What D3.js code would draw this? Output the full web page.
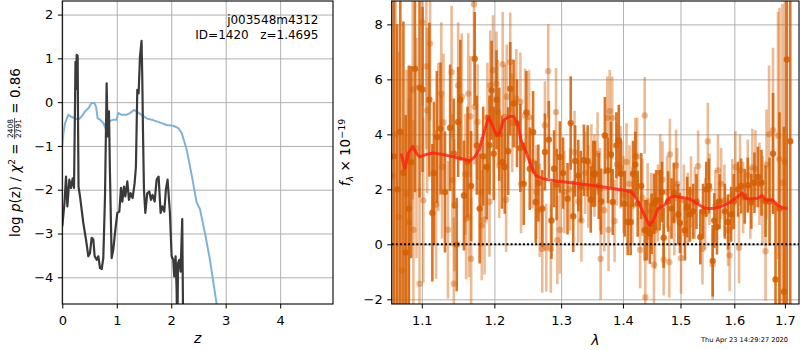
<!DOCTYPE html>
<html>
<head>
<meta charset="utf-8">
<script src="https://cdn.jsdelivr.net/npm/d3@7"></script>
<style>
  body { margin: 0; background: #fff; }
  svg { font-family: "DejaVu Sans", sans-serif; }
</style>
</head>
<body>
<div id="chart"></div>
<script>
// ---- left panel: log p(z) and the chi2 curve ----
var pzZ = [0.0, 0.04, 0.068, 0.093, 0.129, 0.16, 0.19, 0.215, 0.232, 0.242, 0.252, 0.264, 0.282, 0.29, 0.298,
  0.325, 0.386, 0.435, 0.478, 0.508, 0.539, 0.57, 0.594, 0.631, 0.661, 0.692, 0.723, 0.753, 0.784,
  0.814, 0.833, 0.857, 0.875, 0.906, 0.936, 0.967, 1.01, 1.047, 1.077, 1.102, 1.132, 1.157, 1.194,
  1.224, 1.255, 1.291, 1.328, 1.352, 1.377, 1.401, 1.426, 1.455, 1.468, 1.482, 1.499, 1.524, 1.56,
  1.597, 1.628, 1.658, 1.695, 1.732, 1.768, 1.805, 1.836, 1.872, 1.903, 1.933, 1.976, 2.007, 2.037,
  2.056, 2.08, 2.099, 2.11, 2.125, 2.15, 2.172, 2.202, 2.225];
var pzLogP = [-2.84, -2.3, -1.7, -2.38, -1.77, -1.96, -1.74, -1.96, -0.2, 0.92, 0.3, 1.08, 1.06, -0.6, -1.93,
  -2.15, -2.76, -3.14, -3.52, -3.45, -3.1, -3.14, -3.52, -3.6, -3.52, -3.79, -3.81, -3.56, -2.15,
  0.43, -0.78, -0.21, -1.62, -3.56, -3.37, -2.99, -2.53, -2.5, -1.96, -2.27, -1.93, -2.15, -1.81,
  -2.23, -2.08, -2.19, -1.85, -1.47, 0.28, 0.2, 1.04, 1.4, 0.6, -0.71, -1.99, -2.53, -2.08,
  -2.04, -2.23, -2.12, -2.27, -1.77, -1.7, -2.53, -2.38, -2.5, -1.99, -1.77, -2.53, -3.52, -3.6,
  -3.98, -3.52, -4.3, -5.5, -3.67, -3.6, -3.87, -2.67, -6.0];

var chiZ = [0.0, 0.02, 0.05, 0.111, 0.172, 0.233, 0.294, 0.355, 0.417, 0.478, 0.539, 0.588, 0.619, 0.649,
  0.692, 0.753, 0.784, 0.814, 0.863, 0.936, 0.998, 1.028, 1.09, 1.181, 1.242, 1.316, 1.365, 1.456,
  1.548, 1.64, 1.732, 1.823, 1.915, 2.037, 2.129, 2.19, 2.283, 2.375, 2.466, 2.527, 2.619, 2.711,
  2.803, 2.85];
var chiVal = [-1.0, -0.72, -0.48, -0.29, -0.34, -0.37, -0.4, -0.33, -0.21, -0.14, -0.02, -0.02, -0.1, -0.37,
  -0.4, -0.48, -0.57, -0.37, -0.44, -0.4, -0.4, -0.25, -0.29, -0.29, -0.25, -0.18, -0.21, -0.29,
  -0.37, -0.4, -0.44, -0.48, -0.52, -0.54, -0.59, -0.7, -1.08, -1.66, -2.29, -2.44, -2.99, -3.6,
  -4.36, -4.75];

var zTicks = [0, 1, 2, 3, 4];
var pTicks = [-4, -3, -2, -1, 0, 1, 2];

// ---- right panel: spectrum (two exposures) and best-fit model ----
var darkLam = [1.064, 1.068, 1.072, 1.076, 1.079, 1.083, 1.086, 1.091, 1.097, 1.101, 1.110, 1.114, 1.116,
  1.120, 1.125, 1.131, 1.138, 1.143, 1.147, 1.149, 1.152, 1.157, 1.162, 1.167, 1.172, 1.175, 1.179,
  1.184, 1.189, 1.193, 1.196, 1.199, 1.203, 1.207, 1.211, 1.215, 1.220, 1.223, 1.228, 1.233, 1.238,
  1.243, 1.247, 1.252, 1.257, 1.261, 1.265, 1.271, 1.275, 1.281, 1.285, 1.289, 1.293, 1.298, 1.303,
  1.310, 1.315, 1.319, 1.322, 1.327, 1.331, 1.336, 1.342, 1.347, 1.351, 1.354, 1.360, 1.364, 1.370,
  1.375, 1.380, 1.383, 1.389, 1.393, 1.397, 1.403, 1.408, 1.413, 1.417, 1.421, 1.425, 1.431, 1.437,
  1.441, 1.446, 1.449, 1.453, 1.457, 1.463, 1.467, 1.470, 1.478, 1.484, 1.488, 1.496, 1.499, 1.508,
  1.512, 1.517, 1.523, 1.529, 1.536, 1.541, 1.547, 1.552, 1.559, 1.562, 1.567, 1.572, 1.582, 1.588,
  1.594, 1.599, 1.607, 1.613, 1.620, 1.626, 1.633, 1.639, 1.646, 1.653, 1.661, 1.669, 1.676, 1.681,
  1.689, 1.698, 1.704, 1.711];
var darkFlux = [3.2, 2.0, 4.1, 2.6, -0.3, 1.3, 2.99, 6.39, 5.7, 5.63, 5.26, 1.15, 2.59,
  3.9, 4.21, 1.9, 4.24, 3.3, -0.01, 4.45, 5.24, 1.78, 3.0, 2.12, 6.75, 3.6, 1.3,
  3.2, 2.81, 3.61, 5.6, 3.3, 5.26, 4.0, 2.99, 2.81, 3.39, 5.66, 5.12, 4.4, 3.5,
  2.2, 4.8, 2.75, 4.08, 1.54, 2.23, 1.3, 3.36, 3.81, 0.87, 2.75, 2.18, 3.18, 2.59,
  1.66, 4.41, 1.02, 3.03, 2.5, 2.1, 3.06, 3.03, 1.62, 2.57, 2.57, 2.12, 1.56, 3.96,
  2.69, 3.27, 1.54, 3.6, 3.78, 2.57, 1.48, 0.81, 0.81, 2.57, 2.9, 1.48, 2.12, 0.51,
  0.51, 0.39, 0.75, 1.48, 1.6, 1.6, 1.9, 0.24, 1.56, 1.3, 1.87, 1.09, 0.78, 0.51,
  1.36, 1.09, 1.2, 1.56, 0.27, 1.2, 2.0, 2.12, -0.6, 0.87, 0.63, 1.56, 1.2, 0.81,
  1.09, 1.56, 2.0, 2.12, 1.75, 2.15, 1.56, 2.24, 2.45, 2.24, 1.57, 1.56, 3.3, -1.28,
  1.3, -1.72, 6.72, 3.75];
var darkErr = [6.5, 6.0, 6.5, 5.5, 5.0, 5.2, 3.5, 4.5, 4.0, 3.0, 2.8, 2.5, 2.6,
  2.4, 2.4, 2.2, 2.3, 2.0, 1.7, 2.0, 2.2, 2.0, 2.0, 2.0, 1.7, 1.8, 2.0,
  1.8, 1.9, 1.8, 1.8, 1.7, 1.8, 1.7, 1.7, 1.7, 1.6, 1.7, 1.6, 1.6, 1.6,
  1.5, 1.5, 1.5, 1.5, 1.5, 1.4, 1.4, 1.4, 1.4, 1.4, 1.4, 1.3, 1.3, 1.3,
  1.3, 1.7, 1.3, 1.3, 1.3, 1.3, 1.3, 1.3, 1.2, 1.2, 1.2, 1.2, 1.2, 1.4,
  1.2, 1.2, 1.2, 1.2, 1.3, 1.2, 1.2, 1.2, 1.2, 1.2, 1.2, 1.2, 1.2, 1.1,
  1.1, 1.1, 1.1, 1.1, 1.1, 1.1, 1.1, 1.1, 1.1, 1.1, 1.1, 1.1, 1.1, 1.1,
  1.1, 1.0, 1.0, 1.0, 1.0, 1.0, 1.0, 1.0, 1.3, 1.0, 1.0, 1.0, 1.0, 1.0,
  1.0, 1.0, 1.0, 1.0, 1.0, 1.0, 1.0, 1.1, 1.1, 1.2, 1.3, 1.6, 2.2, 2.8,
  3.5, 6.0, 9.0, 6.0];

var lightLam = [1.062, 1.066, 1.070, 1.074, 1.080, 1.083, 1.088, 1.089, 1.093, 1.097, 1.101, 1.102, 1.106,
  1.107, 1.111, 1.119, 1.122, 1.126, 1.127, 1.129, 1.135, 1.140, 1.141, 1.143, 1.144, 1.149, 1.154,
  1.159, 1.160, 1.163, 1.164, 1.166, 1.167, 1.171, 1.172, 1.176, 1.181, 1.182, 1.186, 1.190, 1.193,
  1.194, 1.198, 1.203, 1.205, 1.207, 1.212, 1.215, 1.217, 1.218, 1.223, 1.226, 1.232, 1.238, 1.239,
  1.245, 1.251, 1.256, 1.262, 1.267, 1.271, 1.275, 1.277, 1.280, 1.284, 1.292, 1.294, 1.298, 1.305,
  1.314, 1.321, 1.327, 1.332, 1.338, 1.343, 1.348, 1.353, 1.358, 1.362, 1.363, 1.369, 1.374, 1.376,
  1.378, 1.382, 1.386, 1.390, 1.396, 1.401, 1.406, 1.411, 1.416, 1.421, 1.424, 1.429, 1.433, 1.437,
  1.438, 1.442, 1.448, 1.453, 1.455, 1.460, 1.464, 1.468, 1.470, 1.476, 1.480, 1.481, 1.489, 1.492,
  1.494, 1.501, 1.506, 1.513, 1.519, 1.526, 1.532, 1.540, 1.545, 1.550, 1.553, 1.559, 1.564, 1.569,
  1.575, 1.581, 1.588, 1.591, 1.596, 1.602, 1.609, 1.611, 1.617, 1.626, 1.631, 1.635, 1.641, 1.649,
  1.655, 1.661, 1.663, 1.668, 1.676, 1.686, 1.689, 1.695, 1.700];
var lightFlux = [2.5, 4.0, 1.0, -0.95, 1.84, 0.81, 5.63, 0.53, 3.5, -1.43, 8.08, 1.6, 6.47,
  4.87, 7.3, 1.45, 3.9, 5.48, 2.81, 4.43, 0.53, 6.27, 2.33, -1.43, 1.42, 5.78, 5.37,
  2.55, 0.93, 5.48, 1.0, 4.65, -0.52, 8.73, 5.0, 4.45, 1.9, 0.69, 0.9, 4.6, 1.55,
  5.78, 6.33, 5.84, 4.81, 2.86, 6.55, 4.63, 1.62, 5.37, 6.63, 4.42, 5.3, 5.18, 2.2,
  4.69, 4.63, 3.0, 1.9, 1.24, -0.16, 4.33, -0.12, 6.3, -0.16, 4.81, 0.15, 0.53, 1.9,
  2.0, 3.36, 1.56, 0.87, 2.6, 2.1, 2.87, 2.5, 3.3, 2.0, -0.52, 1.24, 4.6, 0.53,
  4.84, 4.6, 0.85, 2.9, 2.8, 1.8, 3.0, 2.2, 1.4, 3.2, 3.2, -0.2, 1.7, 4.69,
  -1.92, 1.56, 1.2, -0.74, 0.51, 1.5, 2.6, 2.35, -0.56, 1.9, -0.64, 3.27, 0.9, 2.87,
  2.2, -0.5, 1.6, 1.3, 1.9, 1.5, 2.84, -0.16, 1.1, 3.75, 2.0, -0.72, 1.4, 2.69,
  2.2, 1.6, 0.51, -0.4, 1.8, 2.81, -0.12, 2.69, 1.7, 2.51, 1.5, 2.8, 2.75, 2.2,
  1.6, -0.25, 2.9, 4.0, 4.15, 3.96, 3.1, 2.24, 3.0];
var lightErr = [7.0, 6.5, 6.0, 5.0, 4.5, 4.5, 4.0, 4.0, 4.0, 3.5, 3.0, 3.0, 3.0,
  3.0, 2.8, 2.7, 2.7, 2.6, 2.6, 2.5, 2.5, 2.4, 2.4, 2.4, 2.4, 2.3, 2.3,
  2.2, 2.2, 2.2, 2.2, 2.2, 2.2, 2.1, 2.1, 2.1, 2.0, 2.0, 2.0, 2.0, 2.0,
  2.0, 2.0, 1.9, 1.9, 1.9, 1.9, 1.9, 1.9, 1.9, 1.8, 1.8, 1.8, 1.8, 1.8,
  1.7, 1.7, 1.7, 1.7, 1.7, 1.6, 1.6, 1.6, 1.7, 1.6, 1.6, 1.6, 1.6, 1.5,
  1.5, 1.5, 1.5, 1.5, 1.5, 1.5, 1.5, 1.5, 1.5, 1.5, 1.5, 1.5, 1.5, 1.5,
  1.5, 1.5, 1.5, 1.5, 1.5, 1.4, 1.4, 1.4, 1.4, 1.4, 1.4, 1.4, 1.4, 1.4,
  1.4, 1.4, 1.4, 1.4, 1.4, 1.4, 1.4, 1.4, 1.3, 1.3, 1.3, 1.3, 1.3, 1.3,
  1.3, 1.3, 1.3, 1.3, 1.3, 1.3, 1.3, 1.3, 1.3, 1.4, 1.3, 1.3, 1.3, 1.3,
  1.3, 1.3, 1.3, 1.3, 1.3, 1.3, 1.3, 1.3, 1.3, 1.3, 1.3, 1.4, 1.4, 1.5,
  1.6, 1.8, 2.0, 2.5, 3.0, 4.5, 5.5, 6.5, 7.0];

var modelLam = [1.073, 1.078, 1.082, 1.088, 1.092, 1.097, 1.106, 1.115, 1.128, 1.142, 1.153, 1.165, 1.172,
  1.179, 1.186, 1.192, 1.197, 1.203, 1.207, 1.213, 1.222, 1.228, 1.234, 1.239, 1.246, 1.253, 1.261,
  1.271, 1.292, 1.319, 1.348, 1.375, 1.404, 1.415, 1.426, 1.438, 1.445, 1.452, 1.46, 1.471, 1.481,
  1.489, 1.503, 1.518, 1.535, 1.547, 1.559, 1.572, 1.584, 1.597, 1.606, 1.615, 1.623, 1.632, 1.646,
  1.654, 1.662, 1.675, 1.685, 1.695, 1.705];
var modelFlux = [3.3, 2.75, 3.3, 3.56, 3.35, 3.18, 3.27, 3.32, 3.27, 3.18, 3.12, 3.03, 3.18,
  3.48, 4.15, 4.63, 4.33, 3.96, 4.02, 4.51, 4.65, 4.65, 4.39, 3.78, 3.38, 2.93, 2.51,
  2.39, 2.3, 2.23, 2.15, 2.06, 1.96, 1.9, 1.54, 0.99, 0.69, 0.87, 1.3, 1.42, 1.7,
  1.75, 1.7, 1.64, 1.42, 1.3, 1.3, 1.36, 1.45, 1.6, 1.72, 1.87, 1.66, 1.66, 1.68,
  1.78, 1.6, 1.62, 1.42, 1.33, 1.3];

var lamTicks = [1.1, 1.2, 1.3, 1.4, 1.5, 1.6, 1.7];
var fTicks = [-2, 0, 2, 4, 6, 8];

// ---- layout ----
var W = 800, H = 350;
var L = { x0: 62.3, x1: 333, y0: 1, y1: 304 };
var R = { x0: 391.7, x1: 799, y0: 1, y1: 304 };
var ORANGE = "#d55e00";

var svg = d3.select("#chart").append("svg")
  .attr("width", W)
  .attr("height", H);

var xZ = d3.scaleLinear().domain([0, 4.97]).range([L.x0, L.x1]);
var yP = d3.scaleLinear().domain([-4.61, 2.31]).range([L.y1, L.y0]);
var xLam = d3.scaleLog().domain([1.061, 1.729]).range([R.x0, R.x1]);
var yF = d3.scaleLinear().domain([-2.17, 8.85]).range([R.y1, R.y0]);

var defs = svg.append("defs");
[["clipL", L], ["clipR", R]].forEach(function(c) {
  defs.append("clipPath").attr("id", c[0])
    .append("rect")
    .attr("x", c[1].x0).attr("y", c[1].y0)
    .attr("width", c[1].x1 - c[1].x0).attr("height", c[1].y1 - c[1].y0);
});

function gridLines(box, xs, ys, xTicks, yTicks) {
  var g = svg.append("g");
  g.append("g").attr("transform", "translate(0," + box.y1 + ")")
    .call(d3.axisBottom(xs).tickValues(xTicks).tickSize(-(box.y1 - box.y0)).tickFormat(""));
  g.append("g").attr("transform", "translate(" + box.x0 + ",0)")
    .call(d3.axisLeft(ys).tickValues(yTicks).tickSize(-(box.x1 - box.x0)).tickFormat(""));
  g.selectAll(".domain").remove();
  g.selectAll("line").attr("stroke", "#b0b0b0").attr("stroke-width", 1);
}

function styleAxis(g) {
  g.select(".domain").remove();
  g.selectAll(".tick line").attr("stroke", "#000").attr("stroke-width", 1);
  g.selectAll(".tick text")
    .attr("fill", "#000")
    .attr("font-size", 13)
    .attr("font-family", "DejaVu Sans, sans-serif");
}

function axes(box, xs, ys, xTicks, yTicks, xFmt, yFmt) {
  svg.append("g").attr("transform", "translate(0," + box.y1 + ")")
    .call(d3.axisBottom(xs).tickValues(xTicks).tickSize(4.5).tickPadding(7).tickFormat(xFmt))
    .call(styleAxis);
  svg.append("g").attr("transform", "translate(" + box.x0 + ",0)")
    .call(d3.axisLeft(ys).tickValues(yTicks).tickSize(4.5).tickPadding(4.5).tickFormat(yFmt))
    .call(styleAxis);
  svg.append("rect")
    .attr("x", box.x0).attr("y", box.y0)
    .attr("width", box.x1 - box.x0).attr("height", box.y1 - box.y0)
    .attr("fill", "none").attr("stroke", "#000").attr("stroke-width", 1.1);
}

// ---- left panel ----
gridLines(L, xZ, yP, zTicks, pTicks);

var plotL = svg.append("g").attr("clip-path", "url(#clipL)");

var lineL = d3.line()
  .x(function(d) { return xZ(d[0]); })
  .y(function(d) { return yP(d[1]); });

plotL.append("path")
  .datum(d3.zip(chiZ, chiVal))
  .attr("d", lineL)
  .attr("fill", "none")
  .attr("stroke", "#7fb2d9")
  .attr("stroke-width", 2);

plotL.append("path")
  .datum(d3.zip(pzZ, pzLogP))
  .attr("d", lineL)
  .attr("fill", "none")
  .attr("stroke", "#3a3a3a")
  .attr("stroke-width", 2.2)
  .attr("stroke-linejoin", "round");

axes(L, xZ, yP, zTicks, pTicks, d3.format("d"), d3.format("d"));

svg.append("text")
  .attr("x", 318.5).attr("y", 24)
  .attr("text-anchor", "end")
  .attr("font-size", 12)
  .text("j003548m4312");
svg.append("text")
  .attr("x", 318.5).attr("y", 39)
  .attr("text-anchor", "end")
  .attr("font-size", 12)
  .style("white-space", "pre")
  .text("ID=1420   z=1.4695");

svg.append("text")
  .attr("x", (L.x0 + L.x1) / 2).attr("y", 343)
  .attr("text-anchor", "middle")
  .attr("font-size", 14)
  .attr("font-style", "italic")
  .text("z");

// rotated y label with a stacked fraction
var ylab = svg.append("g").attr("transform", "translate(20," + ((L.y0 + L.y1) / 2) + ") rotate(-90)");
var partA = ylab.append("text").attr("font-size", 13.5);
partA.append("tspan").text("log ");
partA.append("tspan").attr("font-style", "italic").text("p");
partA.append("tspan").text("(z) / ");
partA.append("tspan").attr("font-style", "italic").text("χ");
partA.append("tspan").attr("font-size", 9).attr("dy", -5.5).text("2");
partA.append("tspan").attr("dy", 5.5).style("white-space", "pre").text(" = ");
var wA = partA.node().getComputedTextLength();

var num = ylab.append("text").attr("font-size", 7.5).attr("text-anchor", "middle").text("2408");
var den = ylab.append("text").attr("font-size", 7.5).attr("text-anchor", "middle").text("2791");
var wF = Math.max(num.node().getComputedTextLength(), den.node().getComputedTextLength()) + 2;
var partC = ylab.append("text").attr("font-size", 13.5).style("white-space", "pre").text(" = 0.86");
var wC = partC.node().getComputedTextLength();

var x0 = -(wA + wF + wC) / 2;
partA.attr("x", x0);
num.attr("x", x0 + wA + wF / 2).attr("y", -7.2);
den.attr("x", x0 + wA + wF / 2).attr("y", 0.8);
ylab.append("line")
  .attr("x1", x0 + wA).attr("x2", x0 + wA + wF)
  .attr("y1", -5.4).attr("y2", -5.4)
  .attr("stroke", "#000").attr("stroke-width", 0.7);
partC.attr("x", x0 + wA + wF);

// ---- right panel ----
gridLines(R, xLam, yF, lamTicks, fTicks);

var plotR = svg.append("g").attr("clip-path", "url(#clipR)");

function drawSpectrum(lam, flux, err, alpha) {
  var pts = lam.map(function(l, i) { return { l: l, f: flux[i], e: err[i] }; });
  var g = plotR.append("g");
  g.selectAll("line")
    .data(pts)
    .enter().append("line")
    .attr("x1", function(d) { return xLam(d.l); })
    .attr("x2", function(d) { return xLam(d.l); })
    .attr("y1", function(d) { return yF(d.f - d.e); })
    .attr("y2", function(d) { return yF(d.f + d.e); })
    .attr("stroke", ORANGE)
    .attr("stroke-opacity", alpha)
    .attr("stroke-width", 2.6);
  g.selectAll("circle")
    .data(pts)
    .enter().append("circle")
    .attr("cx", function(d) { return xLam(d.l); })
    .attr("cy", function(d) { return yF(d.f); })
    .attr("r", 3.2)
    .attr("fill", ORANGE)
    .attr("fill-opacity", alpha);
}

drawSpectrum(lightLam, lightFlux, lightErr, 0.42);
drawSpectrum(darkLam, darkFlux, darkErr, 0.85);

plotR.append("path")
  .datum(d3.zip(modelLam, modelFlux))
  .attr("d", d3.line()
    .x(function(d) { return xLam(d[0]); })
    .y(function(d) { return yF(d[1]); }))
  .attr("fill", "none")
  .attr("stroke", "#ff1f14")
  .attr("stroke-opacity", 0.8)
  .attr("stroke-width", 3)
  .attr("stroke-linejoin", "round");

plotR.append("line")
  .attr("x1", R.x0).attr("x2", R.x1)
  .attr("y1", yF(0)).attr("y2", yF(0))
  .attr("stroke", "#000")
  .attr("stroke-width", 2)
  .attr("stroke-dasharray", "2,2.1");

axes(R, xLam, yF, lamTicks, fTicks, d3.format(".1f"), d3.format("d"));

svg.append("text")
  .attr("x", (R.x0 + R.x1) / 2).attr("y", 345)
  .attr("text-anchor", "middle")
  .attr("font-size", 14)
  .attr("font-style", "italic")
  .text("λ");

var flab = svg.append("text")
  .attr("transform", "translate(350," + ((R.y0 + R.y1) / 2) + ") rotate(-90)")
  .attr("text-anchor", "middle")
  .attr("font-size", 13.5);
flab.append("tspan").attr("font-style", "italic").text("f");
flab.append("tspan").attr("font-style", "italic").attr("font-size", 9.5).attr("dy", 3).text("λ");
flab.append("tspan").attr("dy", -3).style("white-space", "pre").text(" × 10");
flab.append("tspan").attr("font-size", 9.5).attr("dy", -5.5).text("−19");

svg.append("text")
  .attr("x", 788).attr("y", 342)
  .attr("text-anchor", "end")
  .attr("font-size", 6.6)
  .text("Thu Apr 23 14:29:27 2020");
</script>
</body>
</html>
